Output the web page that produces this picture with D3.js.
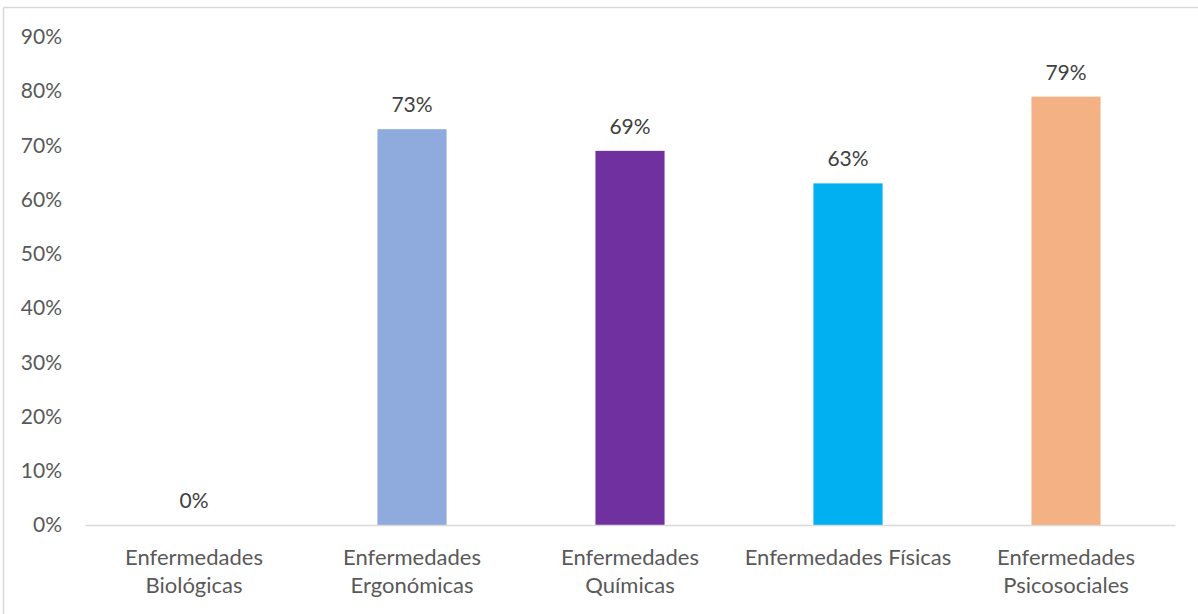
<!DOCTYPE html>
<html>
<head>
<meta charset="utf-8">
<script src="https://cdn.jsdelivr.net/npm/d3@7"></script>
<style>
  html, body { margin: 0; padding: 0; background: #fff; }
  svg { display: block; }
  text { font-family: Lato, "Open Sans", sans-serif; }
</style>
</head>
<body>
<svg id="chart" width="1198" height="614"></svg>
<script>
// Categories (two-line labels) and their percentages
const categories = [
  ["Enfermedades", "Biológicas"],
  ["Enfermedades", "Ergonómicas"],
  ["Enfermedades", "Químicas"],
  ["Enfermedades Físicas"],
  ["Enfermedades", "Psicosociales"]
];
const values = [0, 73, 69, 63, 79];
const colors = ["#4472C4", "#8FAADC", "#7030A0", "#00B0F0", "#F4B183"];
const yTicks = [0, 10, 20, 30, 40, 50, 60, 70, 80, 90];

const svg = d3.select("#chart");
const W = 1198, H = 614;
const margin = { left: 85, right: 23, top: 37, bottom: 89 };
const FONT = "21px";

// Frame around the chart area
svg.append("line").attr("x1", 3.5).attr("x2", W).attr("y1", 7.5).attr("y2", 7.5)
  .attr("stroke", "#d9d9d9").attr("stroke-width", 1.5);
svg.append("line").attr("x1", 3.5).attr("x2", 3.5).attr("y1", 7.5).attr("y2", H)
  .attr("stroke", "#d9d9d9").attr("stroke-width", 1.5);

const idx = d3.range(categories.length);
const x = d3.scaleBand().domain(idx).range([margin.left, W - margin.right]).paddingInner(0.683).paddingOuter(0.3415);
const y = d3.scaleLinear().domain([0, 90]).range([H - margin.bottom, margin.top]);

// Y axis labels
const yAxis = d3.axisLeft(y).tickValues(yTicks).tickFormat(d => d + "%").tickSize(0).tickPadding(0);
const ya = svg.append("g").attr("transform", `translate(62,0)`).call(yAxis);
ya.select(".domain").remove();
ya.selectAll("text").attr("fill", "#595959").style("font-size", FONT)
  .style("font-family", "Lato, 'Open Sans', sans-serif");

// Bars
svg.append("g").selectAll("rect").data(idx).join("rect")
  .attr("x", i => x(i))
  .attr("y", i => y(values[i]))
  .attr("width", x.bandwidth())
  .attr("height", i => y(0) - y(values[i]))
  .attr("fill", i => colors[i]);

// Baseline axis
const xAxis = d3.axisBottom(x).tickSize(0).tickFormat("");
const xa = svg.append("g").attr("transform", `translate(0,${y(0)})`).call(xAxis);
xa.select(".domain").attr("stroke", "#d9d9d9").attr("stroke-width", 1.5);

// Category labels
const lab = svg.append("g").selectAll("text").data(idx).join("text")
  .attr("text-anchor", "middle")
  .attr("fill", "#595959")
  .style("font-size", "22px");
lab.each(function(i) {
  const t = d3.select(this);
  categories[i].forEach((line, k) => {
    t.append("tspan").attr("x", x(i) + x.bandwidth() / 2).attr("y", 565 + k * 28).text(line);
  });
});

// Value labels
svg.append("g").selectAll("text").data(idx).join("text")
  .attr("x", i => x(i) + x.bandwidth() / 2)
  .attr("y", i => y(values[i]) - 17)
  .attr("text-anchor", "middle")
  .attr("fill", "#404040")
  .style("font-size", FONT)
  .text(i => values[i] + "%");
</script>
</body>
</html>
